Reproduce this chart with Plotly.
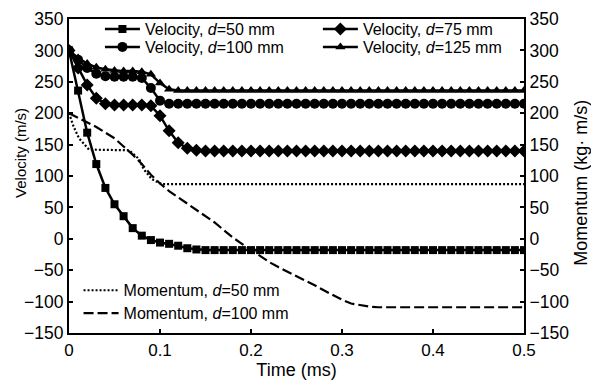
import plotly.graph_objects as go

time_v = [round(i * 0.01, 2) for i in range(51)]

vel_d50 = [300, 236, 169, 119, 81, 55, 36, 17, 5, -2, -6, -8, -11, -15, -17,
           -18, -18, -18, -18, -18, -18, -18, -18, -18, -18, -18, -18, -18, -18, -18,
           -18, -18, -18, -18, -18, -18, -18, -18, -18, -18, -18, -18, -18, -18, -18,
           -18, -18, -18, -18, -18, -18]
vel_d75 = [300, 272, 245, 224, 215, 213, 213, 213, 213, 212, 196, 172, 153, 144, 141,
           140, 140, 140, 140, 140, 140, 140, 140, 140, 140, 140, 140, 140, 140, 140,
           140, 140, 140, 140, 140, 140, 140, 140, 140, 140, 140, 140, 140, 140, 140,
           140, 140, 140, 140, 140, 140]
vel_d100 = [300, 285, 272, 263, 259, 258, 258, 258, 256, 240, 220, 215, 215, 215, 215,
            215, 215, 215, 215, 215, 215, 215, 215, 215, 215, 215, 215, 215, 215, 215,
            215, 215, 215, 215, 215, 215, 215, 215, 215, 215, 215, 215, 215, 215, 215,
            215, 215, 215, 215, 215, 215]
vel_d125 = [300, 288, 279, 273, 270, 268, 267, 267, 266, 262, 248, 238, 236, 236, 236,
            236, 236, 236, 236, 236, 236, 236, 236, 236, 236, 236, 236, 236, 236, 236,
            236, 236, 236, 236, 236, 236, 236, 236, 236, 236, 236, 236, 236, 236, 236,
            236, 236, 236, 236, 236, 236]

time_m50 = [0, 0.005, 0.011, 0.022, 0.066, 0.077, 0.082, 0.091, 0.102, 0.5]
mom_d50 = [200, 179, 160, 142, 141, 127, 111, 95, 87, 87]

mom_d100 = [200, 193, 186, 178, 169, 160, 147, 134, 119, 102, 88, 76, 66, 56, 47,
            37, 26, 14, 2, -8, -18, -28, -37, -45, -52, -60, -67, -74, -82, -90,
            -97, -103, -106, -108, -109, -109, -109, -109, -109, -109, -109, -109, -109, -109, -109,
            -109, -109, -109, -109, -109, -109]

x_ticks = [0, 0.1, 0.2, 0.3, 0.4, 0.5]
x_ticktext = ["0", "0.1", "0.2", "0.3", "0.4", "0.5"]

FONT = "Arial, Liberation Sans, sans-serif"

fig = go.Figure()

def vel(y, name, sym, size, legend):
    fig.add_trace(go.Scatter(
        x=time_v, y=y, name=name, mode="lines+markers",
        line=dict(color="black", width=2.5),
        marker=dict(symbol=sym, size=size, color="black"),
        legend=legend, showlegend=True))

vel(vel_d50, "Velocity, <i>d</i>=50 mm", "square", 8, "legend")
vel(vel_d100, "Velocity, <i>d</i>=100 mm", "circle", 10, "legend3")
vel(vel_d75, "Velocity, <i>d</i>=75 mm", "diamond", 10, "legend2")
vel(vel_d125, "Velocity, <i>d</i>=125 mm", "triangle-up", 9, "legend4")

fig.add_trace(go.Scatter(
    x=time_m50, y=mom_d50, name="Momentum, <i>d</i>=50 mm", mode="lines",
    line=dict(color="black", width=2.2, dash="2px,2px"), legend="legend5",
    yaxis="y2", showlegend=True))
fig.add_trace(go.Scatter(
    x=time_v, y=mom_d100, name="Momentum, <i>d</i>=100 mm", mode="lines",
    line=dict(color="black", width=2.2, dash="10px,4px"), legend="legend6",
    yaxis="y2", showlegend=True))

axis_common = dict(
    showline=True, linecolor="black", linewidth=2, ticks="inside",
    ticklen=4, tickwidth=2, tickcolor="black", showgrid=False, zeroline=False,
    automargin=False,
)

leg = dict(font=dict(size=16, color="black", family=FONT), bgcolor="rgba(0,0,0,0)",
           xanchor="left", yanchor="top", itemwidth=35, visible=True)

fig.update_layout(
    width=591, height=380,
    showlegend=True,
    margin=dict(l=69, r=67, t=17, b=47),
    paper_bgcolor="white", plot_bgcolor="white",
    font=dict(family=FONT, color="black", size=16),
    xaxis=dict(range=[0, 0.5], tickvals=x_ticks, ticktext=x_ticktext,
               tickfont=dict(size=17, color="black", family=FONT),
               ticklabelstandoff=1,
               title=dict(text="Time (ms)", font=dict(size=18), standoff=3),
               mirror=True, **axis_common),
    yaxis=dict(range=[-150, 350], dtick=50,
               tickfont=dict(size=17.5, color="black", family=FONT),
               **axis_common),
    yaxis2=dict(range=[-150, 350], dtick=50, overlaying="y", side="right",
                tickfont=dict(size=17.5, color="black", family=FONT),
                **axis_common),
    legend=dict(x=0.068, y=1.022, **leg),
    legend3=dict(x=0.068, y=0.965, **leg),
    legend2=dict(x=0.547, y=1.022, **leg),
    legend4=dict(x=0.547, y=0.965, **leg),
    legend5=dict(x=0.021, y=0.190, **leg),
    legend6=dict(x=0.021, y=0.117, **leg),
    annotations=[
        dict(text="Velocity (m/s)", xref="paper", yref="paper", x=-0.108, y=0.573,
             textangle=-90, showarrow=False, font=dict(size=15, family=FONT, color="black"),
             xanchor="center", yanchor="middle"),
        dict(text="Momentum (kg· m/s)", xref="paper", yref="paper", x=1.125, y=0.478,
             textangle=-90, showarrow=False, font=dict(size=18, family=FONT, color="black"),
             xanchor="center", yanchor="middle"),
    ],
)

fig.write_html("out.html")
